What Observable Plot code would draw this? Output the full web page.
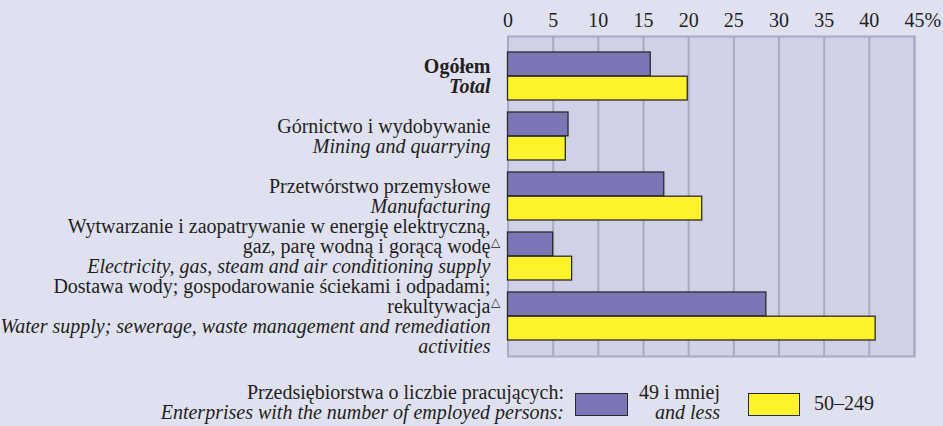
<!DOCTYPE html>
<html><head><meta charset="utf-8">
<script src="https://cdn.jsdelivr.net/npm/d3@7"></script>
<script src="https://cdn.jsdelivr.net/npm/@observablehq/plot@0.6"></script>
<style>
html,body{margin:0;padding:0;background:#dfe1f0;}
#wrap{width:943px;height:426px;position:relative;overflow:hidden;font-family:"Liberation Serif","Times New Roman",serif;color:#231f20;}
#chart svg{display:block;overflow:visible;}
#legend{position:relative;height:54px;font-size:20px;line-height:20px;}
#legend .txt{position:absolute;white-space:nowrap;}
#legend .sw{position:absolute;box-sizing:border-box;border:1.5px solid #2a2a2a;}
#legend i{font-style:italic;}
</style></head>
<body><div id="wrap"><div id="chart"></div><div id="legend"></div></div>
<script>
// ---- data ----
const categoriesPl = [
  "Ogółem",
  "Górnictwo i wydobywanie",
  "Przetwórstwo przemysłowe",
  "Wytwarzanie i zaopatrywanie w energię elektryczną,\ngaz, parę wodną i gorącą wodę",
  "Dostawa wody; gospodarowanie ściekami i odpadami;\nrekultywacja"
];
const categoriesEn = [
  "Total",
  "Mining and quarrying",
  "Manufacturing",
  "Electricity, gas, steam and air conditioning supply",
  "Water supply; sewerage, waste management and remediation\nactivities"
];
const footnoteMarks = ["", "", "", "△", "△"];
const smallFirms = [15.8, 6.7, 17.3, 5.0, 28.6];   // 49 i mniej
const mediumFirms = [19.9, 6.4, 21.5, 7.1, 40.7];  // 50–249
const xTicks = [0, 5, 10, 15, 20, 25, 30, 35, 40, 45];
const legendTitlePl = "Przedsiębiorstwa o liczbie pracujących:";
const legendTitleEn = "Enterprises with the number of employed persons:";
const seriesPl = ["49 i mniej", "50–249"];
const seriesEn = ["and less", ""];
const colors = ["#7b77b7", "#fff22a"];

// ---- build ----
const W = 943, H = 372, mt = 36, mb = 16, ml = 507.5, mr = 29;
const pInner = 0.2, pOuter = 0.245;
const rows = categoriesPl.map((pl, i) => ({i, pl, en: categoriesEn[i], mark: footnoteMarks[i]}));
const barsSmall = rows.map(r => ({cat: r.pl, value: smallFirms[r.i]}));
const barsMedium = rows.map(r => ({cat: r.pl, value: mediumFirms[r.i]}));
const step = (H - mt - mb) / (categoriesPl.length - pInner + 2 * pOuter);
const half = step * (1 - pInner) / 2;

const gridColor = "#aaa9c4";
const ink = "#231f20";
const textCommon = {y: "pl", frameAnchor: "left", textAnchor: "end", fontSize: 20, lineHeight: 0.975, fill: ink, dx: -17.5};

const chart = Plot.plot({
  width: W, height: H,
  marginTop: mt, marginBottom: mb, marginLeft: ml, marginRight: mr,
  style: {background: "transparent", fontFamily: "'Liberation Serif','Times New Roman',serif", fontSize: "20px", color: ink},
  x: {domain: [0, 45]},
  y: {domain: categoriesPl, paddingInner: pInner, paddingOuter: pOuter, axis: null},
  marks: [
    Plot.frame({fill: "#cfd1e7", stroke: null}),
    Plot.ruleX(xTicks, {stroke: gridColor, strokeWidth: 2}),
    Plot.frame({stroke: gridColor, strokeWidth: 2}),
    Plot.barX(barsSmall, {x: "value", y: "cat", fill: colors[0], stroke: "#2a2a2a", strokeWidth: 1.3, insetBottom: half}),
    Plot.barX(barsMedium, {x: "value", y: "cat", fill: colors[1], stroke: "#2a2a2a", strokeWidth: 1.3, insetTop: half}),
    Plot.text(rows.filter(r => r.i === 0), {...textCommon, text: "pl", lineAnchor: "bottom", dy: -4, fontWeight: "bold"}),
    Plot.text(rows.filter(r => r.i > 0), {...textCommon, text: "pl", lineAnchor: "bottom", dy: -4}),
    Plot.text(rows.filter(r => r.i === 0), {...textCommon, text: "en", lineAnchor: "top", dy: 2.8, fontStyle: "italic", fontWeight: "bold"}),
    Plot.text(rows.filter(r => r.i > 0), {...textCommon, text: "en", lineAnchor: "top", dy: 2.8, fontStyle: "italic"}),
    Plot.text(rows.filter(r => r.mark), {y: "pl", text: "mark", frameAnchor: "left", textAnchor: "start", lineAnchor: "bottom", dx: -17, dy: -11, fontSize: 12, fontFamily: "DejaVu Sans", fill: ink}),
    Plot.axisX({anchor: "top", ticks: xTicks, tickSize: 0, tickPadding: 10, label: null, fontSize: 20, fill: ink}),
    Plot.text([45], {x: d => d, text: () => "%", frameAnchor: "top", textAnchor: "start", lineAnchor: "bottom", dy: -10, dx: 10, fontSize: 20, fill: ink})
  ]
});
document.getElementById("chart").appendChild(chart);

// ---- legend (HTML, below the SVG) ----
const lg = document.getElementById("legend");
function add(cls, css, html) {
  const d = document.createElement("div");
  d.className = cls; d.style.cssText = css; if (html != null) d.innerHTML = html;
  lg.appendChild(d); return d;
}
add("txt", "right:379px;top:10px;text-align:right;", legendTitlePl + "<br><i>" + legendTitleEn + "</i>");
add("sw", `left:575px;top:21px;width:53px;height:23px;background:${colors[0]};`);
add("txt", "right:223px;top:10px;text-align:right;", seriesPl[0] + "<br><i>" + seriesEn[0] + "</i>");
add("sw", `left:748px;top:21px;width:52px;height:23px;background:${colors[1]};`);
add("txt", "left:814px;top:21px;", seriesPl[1]);
</script></body></html>
